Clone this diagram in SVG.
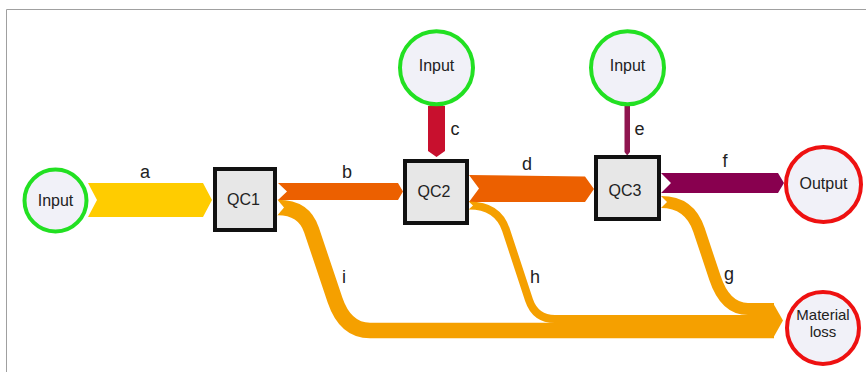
<svg xmlns="http://www.w3.org/2000/svg" width="866" height="372" viewBox="0 0 866 372">
<style>
.frame{fill:none;stroke:#a0a0a0;stroke-width:1}
.box{fill:#e7e7e7;stroke:#111;stroke-width:4}
.src{fill:#f1f1f8;stroke:#22e022;stroke-width:4}
.snk{fill:#f1f1f8;stroke:#ee1111;stroke-width:4}
.nt{font-family:"Liberation Sans",Arial,sans-serif;font-size:16px;fill:#222;text-anchor:middle}
.sm{font-size:15px}
.lb{font-family:"Liberation Sans",Arial,sans-serif;font-size:18px;fill:#222;text-anchor:middle}
.loss{fill:none;stroke:#f5a000;stroke-linejoin:round}
</style>
<defs>
<mask id="tails" maskUnits="userSpaceOnUse" x="0" y="0" width="866" height="372">
<rect x="0" y="0" width="866" height="372" fill="#fff"/>
<polygon points="276,198 284,207.5 276,217" fill="#000"/>
<polygon points="467,200 473,205.5 467,211" fill="#000"/>
<polygon points="659,194 667,202 659,210" fill="#000"/>
</mask>
</defs>
<rect width="866" height="372" fill="#fff"/>
<path class="frame" d="M6.5,372 V9.5 H866"/>

<g id="connectors">
<polygon id="link-a" fill="#ffcc00" points="88,183 203,183 212,200 203,217 88,217 97,200"/>
<polygon id="link-b" fill="#ec6000" points="278,183 398,183 403,191.5 398,200 278,200 287,191.5"/>
<polygon id="link-c" fill="#c8102e" points="428,106 445,106 445,151 436.5,157 428,151 428,106 436.5,110"/>
<polygon id="link-d" fill="#ec6000" points="469,175 585,176.5 594,189 585,202 469,202 479,188.5"/>
<polygon id="link-e" fill="#8f1650" points="624.5,105 630,105 630,152 627.2,155.5 624.5,152"/>
<polygon id="link-f" fill="#88004f" points="661,173 778,173 784,183 778,193 661,193 671,183"/>
<g mask="url(#tails)">
<path id="link-i" class="loss" stroke-width="15.5" d="M276,207.5 L278,207.5 Q304,207.5 311.5,230 L335,300 Q345.3,330.5 370,330.5 L774,330.5"/>
<path id="link-h" class="loss" stroke-width="8" d="M467,205.5 L469,205.5 Q497.9,205.5 506,230 L529,300 Q535.4,319 555,319 L774,319"/>
<path id="link-g" class="loss" stroke-width="12" d="M659,202 L661,202 Q689.7,202 699,230 L715,278 Q725.3,309 748,309 L774,309"/>
</g>
<polygon id="loss-head" fill="#f5a000" points="773,303 783,320.5 773,338.3"/>
<text class="lb" x="145" y="178">a</text>
<text class="lb" x="347" y="178">b</text>
<text class="lb" x="455" y="135">c</text>
<text class="lb" x="527" y="170">d</text>
<text class="lb" x="639.5" y="135">e</text>
<text class="lb" x="725" y="167">f</text>
<text class="lb" x="729" y="280">g</text>
<text class="lb" x="535" y="283">h</text>
<text class="lb" x="344" y="283">i</text>
</g>

<g id="input-1">
<circle class="src" cx="55.5" cy="200.5" r="31"/>
<text class="nt" x="55.5" y="205.7">Input</text>
</g>
<g id="input-2">
<circle class="src" cx="436.5" cy="67.7" r="36.5"/>
<text class="nt" x="436.5" y="70.7">Input</text>
</g>
<g id="input-3">
<circle class="src" cx="627.5" cy="67.7" r="36.5"/>
<text class="nt" x="627.5" y="70.7">Input</text>
</g>
<g id="qc1">
<rect class="box" x="215" y="169" width="60" height="61"/>
<text class="nt" x="243.5" y="205">QC1</text>
</g>
<g id="qc2">
<rect class="box" x="405" y="161" width="62" height="62"/>
<text class="nt" x="434" y="196.5">QC2</text>
</g>
<g id="qc3">
<rect class="box" x="596" y="157" width="63" height="62"/>
<text class="nt" x="625" y="195.5">QC3</text>
</g>
<g id="output">
<circle class="snk" cx="823.5" cy="184.5" r="37.5"/>
<text class="nt" x="823.5" y="188.5">Output</text>
</g>
<g id="material-loss">
<circle class="snk" cx="823" cy="328" r="36"/>
<text class="nt sm" x="823" y="320">Material</text>
<text class="nt sm" x="823" y="337">loss</text>
</g>
</svg>
